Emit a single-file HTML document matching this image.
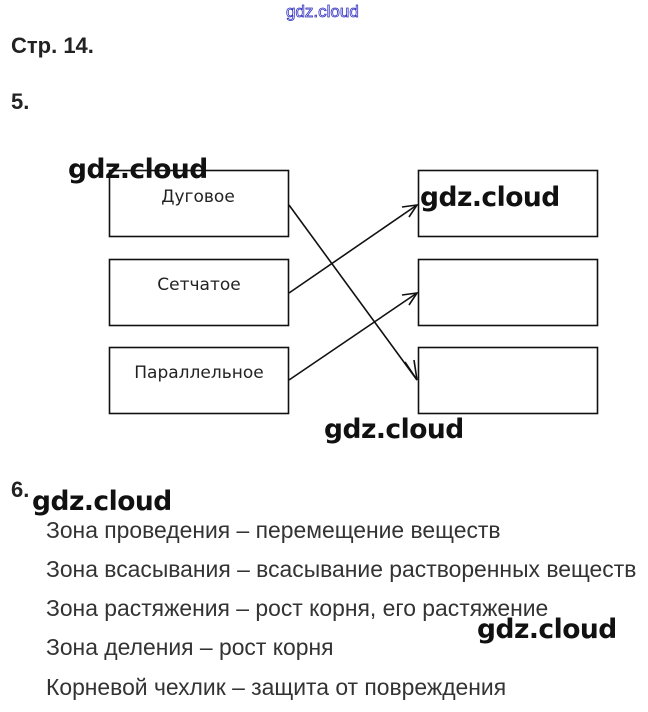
<!DOCTYPE html>
<html><head><meta charset="utf-8"><style>
body{margin:0;width:648px;height:712px;background:#fff;position:relative;overflow:hidden;font-family:"Liberation Sans",sans-serif}
.a{position:absolute;white-space:nowrap}
.wm{position:absolute;font-family:"DejaVu Sans","Liberation Sans",sans-serif;font-weight:bold;font-size:26.5px;color:#111;letter-spacing:-0.5px}
.t{position:absolute;left:46px;font-size:22.9px;color:#333;white-space:nowrap}
</style></head><body>
<div class="a" style="left:286px;top:2px;font-size:17px;color:#fff;-webkit-text-stroke:0.8px #3030c0">gdz.cloud</div>
<div class="a" style="left:11px;top:33px;font-size:22px;font-weight:bold;color:#222">Стр. 14.</div>
<div class="a" style="left:11px;top:89px;font-size:22px;font-weight:bold;color:#222">5.</div>
<svg style="position:absolute;left:0;top:0" width="648" height="712">
<g fill="none" stroke="#111" stroke-width="1.6">
<rect x="109.5" y="170.5" width="179" height="66"/>
<rect x="109.5" y="259.5" width="179" height="66"/>
<rect x="109.5" y="347.5" width="179" height="66"/>
<rect x="418.5" y="170.5" width="179" height="66"/>
<rect x="418.5" y="259.5" width="179" height="66"/>
<rect x="418.5" y="347.5" width="179" height="66"/>
<line x1="289" y1="205" x2="417" y2="380"/>
<line x1="289" y1="293" x2="417" y2="205"/>
<line x1="289" y1="380" x2="417" y2="293"/>
<polyline points="405,362 417,380 414,360"/>
<polyline points="402,207 417,205 409,217"/>
<polyline points="402,295 417,293 409,305"/>
</g>
<g font-family="DejaVu Sans, sans-serif" font-size="17" fill="#222" text-anchor="middle">
<text x="198" y="202">Дуговое</text>
<text x="199" y="290">Сетчатое</text>
<text x="199" y="378">Параллельное</text>
</g>
</svg>
<div class="wm" style="left:68px;top:154px">gdz.cloud</div>
<div class="wm" style="left:420px;top:182px">gdz.cloud</div>
<div class="wm" style="left:324px;top:414px">gdz.cloud</div>
<div class="wm" style="left:32px;top:486px">gdz.cloud</div>
<div class="wm" style="left:477px;top:614px">gdz.cloud</div>
<div class="a" style="left:11px;top:477px;font-size:22px;font-weight:bold;color:#222">6.</div>
<div class="t" style="top:517px">Зона проведения – перемещение веществ</div>
<div class="t" style="top:556px">Зона всасывания – всасывание растворенных веществ</div>
<div class="t" style="top:595px">Зона растяжения – рост корня, его растяжение</div>
<div class="t" style="top:634px">Зона деления – рост корня</div>
<div class="t" style="top:674px">Корневой чехлик – защита от повреждения</div>
</body></html>
